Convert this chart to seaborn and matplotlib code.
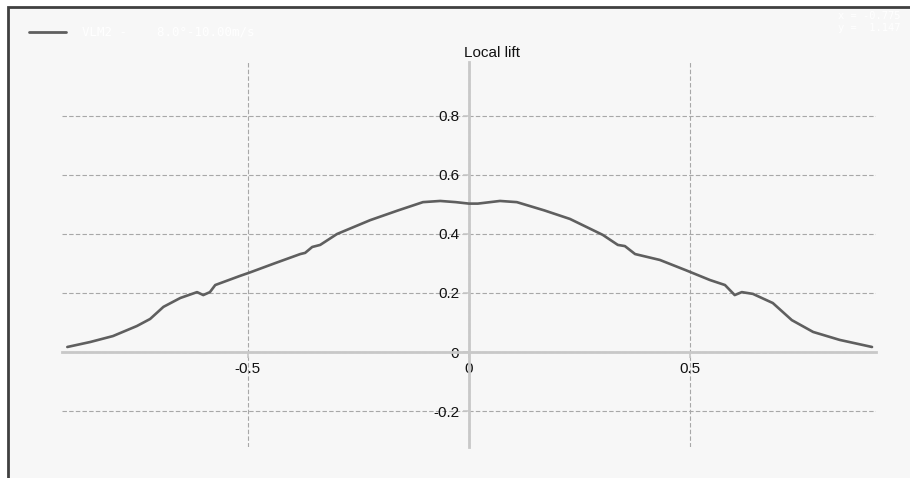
import matplotlib
matplotlib.use("Agg")
import matplotlib.pyplot as plt
from matplotlib.patches import Rectangle
import seaborn as sns
import pandas as pd

# Spanwise position and local lift coefficient
span_pos = [-0.907, -0.855, -0.804, -0.75, -0.72, -0.69, -0.652, -0.614, -0.600,
            -0.585, -0.573, -0.517, -0.494, -0.44, -0.381, -0.370, -0.354, -0.336,
            -0.298, -0.223, -0.16, -0.104, -0.065, -0.03, 0.0,
            0.02, 0.07, 0.108, 0.17, 0.228, 0.302, 0.336, 0.352, 0.375, 0.431,
            0.49, 0.544, 0.578, 0.60, 0.616, 0.641, 0.686, 0.729, 0.777, 0.837, 0.91]
local_lift = [0.017, 0.034, 0.054, 0.088, 0.112, 0.153, 0.183, 0.203, 0.193,
              0.203, 0.227, 0.258, 0.270, 0.300, 0.332, 0.336, 0.356, 0.363,
              0.400, 0.447, 0.480, 0.508, 0.512, 0.508, 0.503,
              0.503, 0.512, 0.508, 0.480, 0.451, 0.397, 0.363, 0.359, 0.332, 0.312,
              0.277, 0.244, 0.227, 0.193, 0.203, 0.197, 0.166, 0.108, 0.068, 0.041, 0.017]

x_ticks = [-0.5, 0, 0.5]
x_tick_labels = ["-0.5", "0", "0.5"]
y_ticks = [-0.2, 0, 0.2, 0.4, 0.6, 0.8]
y_tick_labels = ["-0.2", "0", "0.2", "0.4", "0.6", "0.8"]

series_label = "VLM2 -    8.0°-10.00m/s"
axis_title = "Local lift"
cursor_x = "x = -0.775"
cursor_y = "y =  1.147"

sns.set_style("white")
plt.rcParams["font.family"] = ["Liberation Sans", "DejaVu Sans"]

LINE = "#5f5f5f"
AXIS = "#c8c8c8"
GRID = "#a8a8a8"

fig = plt.figure(figsize=(9.10, 4.78), dpi=100, facecolor="white")

# Panel frame, kept behind the axes
W, H = 910, 478
fig.patches.append(Rectangle((8 / W, -0.05), 1.05, 1 - 7 / H + 0.05,
                             transform=fig.transFigure, facecolor="#f7f7f7",
                             edgecolor="#404040", linewidth=2.0, zorder=-5))

ax = fig.add_axes([62 / W, 31 / H, 814 / W, 385 / H])
ax.set_facecolor("none")
ax.set_zorder(1)

df = pd.DataFrame({"span": span_pos, "lift": local_lift})
sns.lineplot(data=df, x="span", y="lift", ax=ax, color=LINE, linewidth=1.9,
             sort=False, zorder=4)

ax.set_xlim(-0.919, 0.919)
ax.set_ylim(-0.322, 0.983)
ax.set_xlabel("")
ax.set_ylabel("")

ax.set_xticks(x_ticks, x_tick_labels)
ax.set_yticks(y_ticks, y_tick_labels)

for s in ("top", "right"):
    ax.spines[s].set_visible(False)
ax.spines["left"].set_position(("data", 0))
ax.spines["bottom"].set_position(("data", 0))
for s in ("left", "bottom"):
    ax.spines[s].set_color(AXIS)
    ax.spines[s].set_linewidth(2.0)
    ax.spines[s].set_zorder(3)

ax.tick_params(axis="both", which="major", length=4, width=1.2, color=AXIS,
               labelsize=11, labelcolor="#111111", pad=3)
ax.tick_params(axis="x", direction="out", bottom=True)
ax.tick_params(axis="y", direction="out", left=True)

ax.grid(True, linestyle=(0, (4, 2)), color=GRID, linewidth=0.8, zorder=1)
ax.set_axisbelow(True)

# Axis name sits just above the top of the vertical axis
ax.annotate(axis_title, xy=(0, 0.983), xycoords="data",
            xytext=(-5, 2), textcoords="offset pixels",
            ha="left", va="bottom", fontsize=11, color="#111111")

# Legend entry
fig.add_artist(plt.Line2D([29 / W, 66 / W], [1 - 32 / H, 1 - 32 / H],
                          transform=fig.transFigure, color=LINE, linewidth=2.0))
fig.text(82 / W, 1 - 32 / H, series_label, ha="left", va="center",
         fontsize=9, color="white", family="DejaVu Sans Mono")

# Cursor readout
fig.text(838 / W, 1 - 16 / H, cursor_x, ha="left", va="center",
         fontsize=7.5, color="white", family="DejaVu Sans Mono")
fig.text(838 / W, 1 - 28 / H, cursor_y, ha="left", va="center",
         fontsize=7.5, color="white", family="DejaVu Sans Mono")

fig.savefig("out.png", dpi=100, facecolor="white")
